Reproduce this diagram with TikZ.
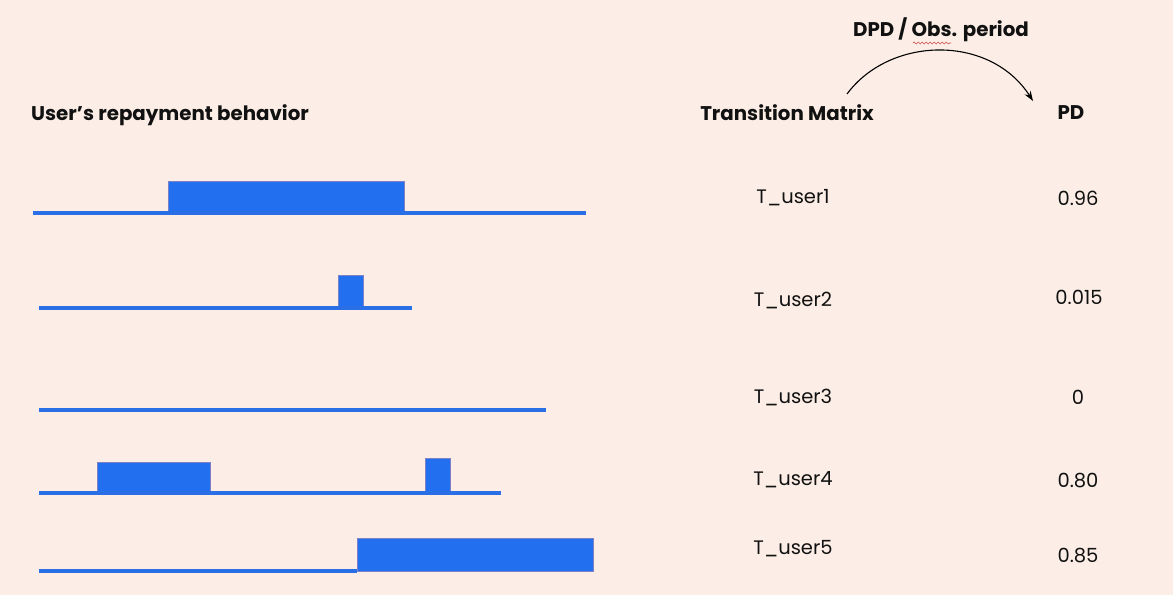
\documentclass[tikz,border=0pt]{standalone}
\usepackage{fontspec}
\setmainfont{Poppins}
\usetikzlibrary{arrows.meta,decorations.pathmorphing}
\definecolor{bg}{HTML}{FCEEE6}
\definecolor{barblue}{HTML}{2270F0}
\definecolor{baredge}{HTML}{7D82C6}
\definecolor{lineblue}{HTML}{2A6FE6}
\definecolor{txt}{HTML}{111111}
\tikzset{
  hdr/.style={font=\bfseries\fontsize{19.8}{22}\selectfont, text=txt, inner sep=0pt},
  val/.style={font=\fontsize{19.5}{22}\selectfont, text=txt, inner sep=0pt},
  bar/.style={fill=barblue, draw=baredge, line width=1pt},
  base/.style={draw=lineblue, line width=4pt},
}
\begin{document}
\begin{tikzpicture}[x=1pt,y=-1pt]
\fill[bg] (0,0) rectangle (1173,595);
\useasboundingbox (0,0) rectangle (1173,595);

% headers
\node[hdr, anchor=west] (beh) at (31,115) {User’s repayment behavior};
\node[hdr] (tm) at (787,113) {Transition Matrix};
\node[hdr] (pd) at (1071,113) {PD};
\node[hdr] (dpd) at (941,30) {DPD / Obs. period};
\draw[red!70!black!70, line width=0.6pt, decorate, decoration={snake, amplitude=1pt, segment length=4pt}] (913,43) -- (951,43);

% arc
\coordinate (arcs) at (847,94);
\coordinate (arce) at (1033,101);
\draw[line width=1.1pt, -{Stealth[length=10pt,width=7pt]}] (arcs) .. controls (890,36) and (990,34) .. (arce);

% row 1
\draw[bar] (168,181) rectangle (404,213);
\draw[base] (33,213) -- (586,213);
% row 2
\draw[bar] (338,275) rectangle (363,308);
\draw[base] (39,308) -- (412,308);
% row 3
\draw[base] (39,410) -- (546,410);
% row 4
\draw[bar] (97,462) rectangle (210,493);
\draw[bar] (425,458) rectangle (450,493);
\draw[base] (39,493) -- (501,493);
% row 5
\draw[bar] (357,538) rectangle (593,571);
\draw[base] (39,571) -- (357,571);

% transition matrices
\node[val] (t1) at (793,198) {T\_user1};
\node[val] (t2) at (793,301) {T\_user2};
\node[val] (t3) at (793,397) {T\_user3};
\node[val] (t4) at (793,480) {T\_user4};
\node[val] (t5) at (793,549) {T\_user5};

% PD values
\node[val] (p1) at (1078,198) {0.96};
\node[val] (p2) at (1079,297) {0.015};
\node[val] (p3) at (1078,397) {0};
\node[val] (p4) at (1078,481) {0.80};
\node[val] (p5) at (1078,556) {0.85};
\end{tikzpicture}
\end{document}
